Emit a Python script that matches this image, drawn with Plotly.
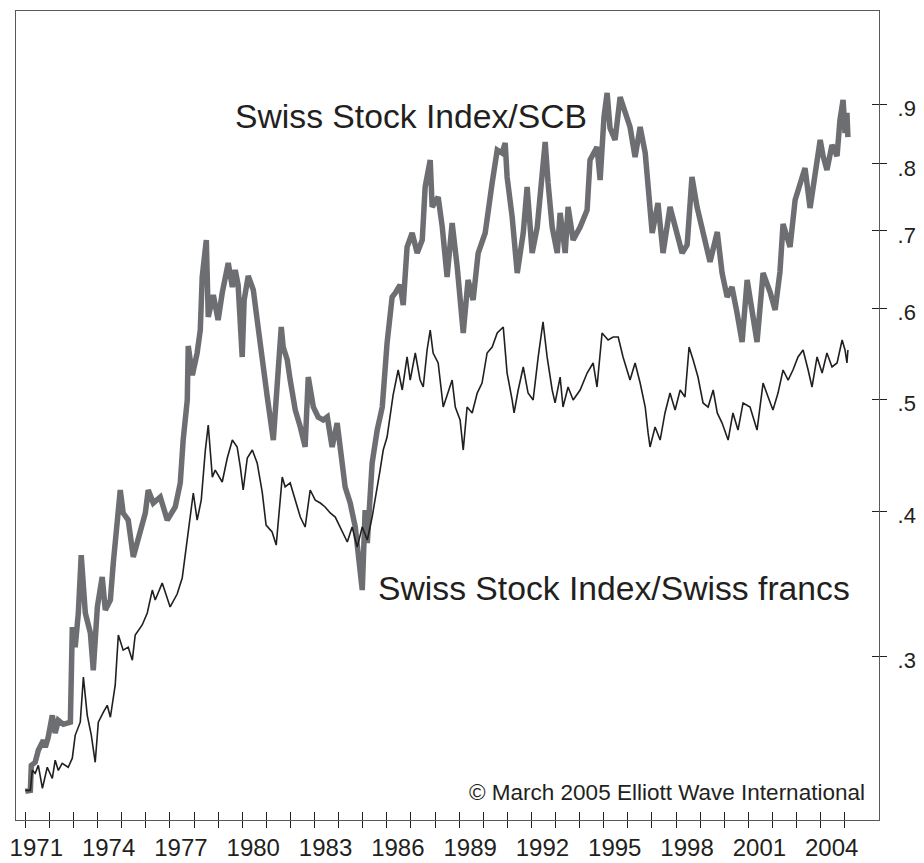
import plotly.graph_objects as go

# Swiss Stock Index priced in SCB (gold-backed unit) -- thick gray line
scb_years = [
    1971.00, 1971.21, 1971.25, 1971.41, 1971.54, 1971.75, 1971.83, 1971.95, 1972.12, 1972.24,
    1972.37, 1972.58, 1972.87, 1972.95, 1973.07, 1973.20, 1973.32, 1973.49, 1973.70, 1973.82,
    1973.99, 1974.19, 1974.32, 1974.53, 1974.65, 1974.82, 1974.94, 1975.06, 1975.27, 1975.48,
    1975.69, 1975.98, 1976.10, 1976.31, 1976.60, 1976.89, 1977.22, 1977.43, 1977.55, 1977.72,
    1977.76, 1977.93, 1978.13, 1978.26, 1978.34, 1978.51, 1978.59, 1978.80, 1979.00, 1979.17,
    1979.42, 1979.59, 1979.71, 1979.83, 1980.00, 1980.08, 1980.25, 1980.46, 1980.62, 1980.83,
    1981.04, 1981.29, 1981.45, 1981.62, 1981.70, 1981.87, 1981.99, 1982.20, 1982.41, 1982.61,
    1982.74, 1982.95, 1983.15, 1983.36, 1983.53, 1983.73, 1983.94, 1984.07, 1984.27, 1984.48,
    1984.69, 1984.98, 1985.10, 1985.19, 1985.39, 1985.60, 1985.81, 1986.01, 1986.22, 1986.35,
    1986.55, 1986.68, 1986.84, 1987.05, 1987.26, 1987.47, 1987.59, 1987.80, 1987.88, 1988.13,
    1988.30, 1988.50, 1988.71, 1988.92, 1989.17, 1989.37, 1989.58, 1989.79, 1990.08, 1990.37,
    1990.58, 1990.78, 1990.91, 1990.99, 1991.20, 1991.41, 1991.66, 1991.82, 1992.03, 1992.24,
    1992.44, 1992.57, 1992.69, 1992.86, 1993.07, 1993.19, 1993.40, 1993.52, 1993.73, 1994.02,
    1994.31, 1994.43, 1994.72, 1994.85, 1995.01, 1995.14, 1995.26, 1995.47, 1995.68, 1995.89,
    1996.09, 1996.30, 1996.51, 1996.72, 1996.84, 1997.01, 1997.25, 1997.46, 1997.75, 1998.04,
    1998.25, 1998.46, 1998.66, 1998.87, 1999.12, 1999.41, 1999.71, 1999.91, 2000.12, 2000.32,
    2000.53, 2000.74, 2000.95, 2001.15, 2001.36, 2001.61, 2001.90, 2002.11, 2002.31, 2002.44,
    2002.73, 2002.94, 2003.14, 2003.35, 2003.56, 2003.77, 2003.98, 2004.10, 2004.26, 2004.47,
    2004.68, 2004.80, 2004.93, 2005.01, 2005.09, 2005.13,
]
scb_values = [
    0.2292, 0.2296, 0.2413, 0.2428, 0.2487, 0.2537, 0.2502, 0.2552, 0.2666, 0.2573,
    0.2640, 0.2619, 0.2630, 0.3179, 0.3054, 0.3269, 0.3669, 0.3269, 0.3141, 0.2917,
    0.3309, 0.3512, 0.3289, 0.3355, 0.3611, 0.4014, 0.4177, 0.3990, 0.3934, 0.3655,
    0.3803, 0.3990, 0.4177, 0.4070, 0.4119, 0.3934, 0.4038, 0.4236, 0.4614, 0.4997,
    0.5565, 0.5252, 0.5488, 0.5745, 0.6385, 0.6874, 0.5896, 0.6160, 0.5861, 0.6185,
    0.6566, 0.6259, 0.6475, 0.6284, 0.5444, 0.6099, 0.6398, 0.6222, 0.5861, 0.5380,
    0.5027, 0.4614, 0.5067, 0.5780, 0.5554, 0.5412, 0.5200, 0.4899, 0.4735, 0.4551,
    0.5231, 0.4928, 0.4831, 0.4802, 0.4831, 0.4551, 0.4773, 0.4551, 0.4202, 0.4070,
    0.3880, 0.3422, 0.4014, 0.3758, 0.4408, 0.4707, 0.4928, 0.5598, 0.6136, 0.6185,
    0.6284, 0.6039, 0.6779, 0.6970, 0.6698, 0.6874, 0.7640, 0.8061, 0.7341, 0.7488,
    0.7054, 0.6385, 0.7110, 0.6514, 0.5711, 0.6347, 0.6099, 0.6698, 0.6970, 0.7701,
    0.8224, 0.8175, 0.8339, 0.7793, 0.7196, 0.6436, 0.6970, 0.7640, 0.6698, 0.7054,
    0.7950, 0.8356, 0.7701, 0.7054, 0.6698, 0.7254, 0.6698, 0.7341, 0.6874, 0.7054,
    0.7297, 0.8061, 0.8273, 0.7747, 0.8783, 0.9213, 0.8592, 0.8389, 0.9139, 0.8853,
    0.8610, 0.8110, 0.8610, 0.8175, 0.7640, 0.6970, 0.7400, 0.6698, 0.7341, 0.6915,
    0.6698, 0.6806, 0.7793, 0.7341, 0.6970, 0.6579, 0.6984, 0.6436, 0.6136, 0.6259,
    0.5943, 0.5609, 0.6347, 0.5943, 0.5609, 0.6436, 0.6197, 0.5979, 0.6449, 0.7096,
    0.6779, 0.7444, 0.7701, 0.7934, 0.7326, 0.7793, 0.8389, 0.8126, 0.7902, 0.8306,
    0.8126, 0.8730, 0.9085, 0.8507, 0.8853, 0.8439,
]

# Swiss Stock Index priced in Swiss francs -- thin black line
chf_years = [
    1971.00, 1971.21, 1971.29, 1971.41, 1971.54, 1971.71, 1971.91, 1972.12, 1972.24, 1972.37,
    1972.53, 1972.78, 1972.95, 1973.07, 1973.28, 1973.41, 1973.57, 1973.74, 1973.90, 1974.03,
    1974.24, 1974.40, 1974.53, 1974.73, 1974.86, 1975.06, 1975.27, 1975.44, 1975.56, 1975.85,
    1976.06, 1976.27, 1976.39, 1976.68, 1977.01, 1977.30, 1977.51, 1977.64, 1977.76, 1977.97,
    1978.13, 1978.30, 1978.47, 1978.59, 1978.76, 1978.88, 1979.17, 1979.38, 1979.59, 1979.79,
    1979.92, 1980.04, 1980.21, 1980.42, 1980.62, 1980.83, 1980.99, 1981.24, 1981.41, 1981.66,
    1981.78, 1981.99, 1982.20, 1982.41, 1982.61, 1982.82, 1983.03, 1983.24, 1983.44, 1983.65,
    1983.86, 1984.07, 1984.36, 1984.56, 1984.77, 1984.98, 1985.19, 1985.39, 1985.52, 1985.72,
    1985.85, 1986.01, 1986.26, 1986.47, 1986.64, 1986.84, 1986.97, 1987.18, 1987.38, 1987.51,
    1987.67, 1987.80, 1987.92, 1988.13, 1988.34, 1988.54, 1988.71, 1988.84, 1989.04, 1989.17,
    1989.33, 1989.54, 1989.75, 1989.95, 1990.16, 1990.37, 1990.58, 1990.83, 1990.99, 1991.20,
    1991.28, 1991.45, 1991.66, 1991.86, 1992.07, 1992.28, 1992.48, 1992.65, 1992.86, 1992.98,
    1993.19, 1993.31, 1993.52, 1993.73, 1994.02, 1994.31, 1994.56, 1994.72, 1994.93, 1995.18,
    1995.39, 1995.60, 1995.80, 1996.09, 1996.30, 1996.51, 1996.72, 1996.84, 1996.92, 1997.13,
    1997.34, 1997.54, 1997.75, 1997.96, 1998.17, 1998.37, 1998.54, 1998.71, 1998.91, 1999.12,
    1999.33, 1999.54, 1999.71, 1999.91, 2000.16, 2000.36, 2000.57, 2000.78, 2001.07, 2001.36,
    2001.61, 2001.82, 2002.02, 2002.23, 2002.44, 2002.65, 2002.85, 2003.06, 2003.27, 2003.48,
    2003.64, 2003.85, 2004.06, 2004.26, 2004.47, 2004.68, 2004.89, 2005.01, 2005.09, 2005.13,
]
chf_values = [
    0.2296, 0.2296, 0.2389, 0.2375, 0.2413, 0.2305, 0.2404, 0.2351, 0.2438, 0.2389,
    0.2423, 0.2404, 0.2448, 0.2562, 0.2630, 0.2877, 0.2666, 0.2562, 0.2428, 0.2630,
    0.2683, 0.2720, 0.2656, 0.2831, 0.3129, 0.3036, 0.3054, 0.2976, 0.3129, 0.3192,
    0.3269, 0.3422, 0.3355, 0.3470, 0.3309, 0.3395, 0.3505, 0.3669, 0.3857, 0.4152,
    0.3934, 0.4094, 0.4523, 0.4754, 0.4286, 0.4346, 0.4244, 0.4452, 0.4614, 0.4551,
    0.4373, 0.4177, 0.4452, 0.4523, 0.4408, 0.4160, 0.3895, 0.3842, 0.3743, 0.4286,
    0.4202, 0.4236, 0.4094, 0.3958, 0.3880, 0.4177, 0.4094, 0.4070, 0.4038, 0.3990,
    0.3958, 0.3880, 0.3766, 0.3880, 0.3728, 0.3880, 0.3781, 0.3958, 0.4094, 0.4346,
    0.4523, 0.4642, 0.5047, 0.5305, 0.5098, 0.5445, 0.5200, 0.5488, 0.5200, 0.5128,
    0.5521, 0.5745, 0.5488, 0.5380, 0.4928, 0.5067, 0.5200, 0.4928, 0.4802, 0.4523,
    0.4928, 0.4870, 0.5067, 0.5169, 0.5488, 0.5554, 0.5711, 0.5780, 0.5273, 0.4997,
    0.4870, 0.5098, 0.5337, 0.5067, 0.4997, 0.5445, 0.5838, 0.5445, 0.5098, 0.4968,
    0.5231, 0.4928, 0.5128, 0.4997, 0.5098, 0.5273, 0.5380, 0.5128, 0.5711, 0.5632,
    0.5666, 0.5666, 0.5445, 0.5200, 0.5380, 0.5169, 0.4928, 0.4680, 0.4551, 0.4735,
    0.4614, 0.4870, 0.5067, 0.4899, 0.5098, 0.5027, 0.5554, 0.5412, 0.5231, 0.4968,
    0.4928, 0.5098, 0.4870, 0.4773, 0.4614, 0.4870, 0.4707, 0.4968, 0.4928, 0.4707,
    0.5169, 0.5027, 0.4899, 0.5067, 0.5305, 0.5200, 0.5305, 0.5445, 0.5521, 0.5305,
    0.5128, 0.5445, 0.5273, 0.5488, 0.5337, 0.5380, 0.5632, 0.5521, 0.5380, 0.5521,
]

label_years = [1971, 1974, 1977, 1980, 1983, 1986, 1989, 1992, 1995, 1998, 2001, 2004]
all_years = list(range(1971, 2006))
y_ticks = [0.3, 0.4, 0.5, 0.6, 0.7, 0.8, 0.9]
y_labels = ['.3', '.4', '.5', '.6', '.7', '.8', '.9']

FONT = 'Liberation Sans, Arial, Helvetica, sans-serif'
INK = '#231f20'
AXIS = '#58595b'
X_RANGE = [1970.614, 2006.42]
Y_RANGE = [-0.66468, 0.03533]

fig = go.Figure()

fig.add_trace(go.Scatter(x=scb_years, y=scb_values, mode='lines',
                         line=dict(color='#6d6e71', width=5.5),
                         hoverinfo='skip', showlegend=False))

fig.add_trace(go.Scatter(x=chf_years, y=chf_values, mode='lines',
                         line=dict(color=INK, width=1.6),
                         xaxis='x2', yaxis='y2',
                         hoverinfo='skip', showlegend=False))

# the page body keeps its default 8px margin, so the figure is 8px smaller
# and its margins are trimmed by the same amount
fig.update_layout(
    width=916, height=855,
    margin=dict(l=7.7, r=45, t=3, b=43, autoexpand=False),
    paper_bgcolor='white', plot_bgcolor='white',
    font=dict(family=FONT, color=INK),
    showlegend=False,
    xaxis=dict(
        range=X_RANGE, showgrid=False, zeroline=False, automargin=False,
        showline=True, linecolor=AXIS, linewidth=1.3, mirror=True,
        tickmode='array', tickvals=label_years,
        ticktext=[str(y) for y in label_years],
        ticks='outside', ticklen=7, tickwidth=1.2, tickcolor=INK,
        ticklabelshift=11, ticklabelstandoff=-1, ticklabeloverflow='allow',
        minor=dict(tickmode='array', tickvals=all_years, ticks='outside',
                   ticklen=7, tickwidth=1.2, tickcolor=INK, showgrid=False),
        tickfont=dict(size=24, family=FONT, color=INK),
    ),
    xaxis2=dict(
        range=X_RANGE, overlaying='x', anchor='y2', side='bottom',
        showgrid=False, zeroline=False, showline=False, automargin=False,
        tickmode='array', tickvals=all_years, ticks='inside',
        ticklen=8, tickwidth=1.2, tickcolor=INK, showticklabels=False,
    ),
    yaxis=dict(
        type='log', range=Y_RANGE, side='right', automargin=False,
        showgrid=False, zeroline=False,
        showline=True, linecolor=AXIS, linewidth=1.3, mirror=True,
        tickmode='array', tickvals=y_ticks, ticktext=y_labels,
        ticks='outside', ticklen=7, tickwidth=1.2, tickcolor=INK,
        ticklabelstandoff=6, ticklabelshift=4, ticklabeloverflow='allow',
        tickfont=dict(size=22, family=FONT, color=INK),
    ),
    yaxis2=dict(
        type='log', range=Y_RANGE, overlaying='y', anchor='x2', side='right',
        showgrid=False, zeroline=False, showline=False, automargin=False,
        tickmode='array', tickvals=y_ticks, ticks='inside',
        ticklen=7, tickwidth=1.2, tickcolor=INK, showticklabels=False,
    ),
)

fig.add_annotation(text='Swiss Stock Index/SCB', xref='paper', yref='paper',
                   x=0.2517, y=0.8696, xanchor='left', yanchor='middle',
                   showarrow=False, font=dict(size=33.7, family=FONT, color=INK))
fig.add_annotation(text='Swiss Stock Index/Swiss francs', xref='paper', yref='paper',
                   x=0.4174, y=0.2862, xanchor='left', yanchor='middle',
                   showarrow=False, font=dict(size=33.7, family=FONT, color=INK))
fig.add_annotation(text='© March 2005 Elliott Wave International', xref='paper', yref='paper',
                   x=0.9861, y=0.0346, xanchor='right', yanchor='middle',
                   showarrow=False, font=dict(size=22.5, family=FONT, color=INK))

fig.write_html('out.html')
